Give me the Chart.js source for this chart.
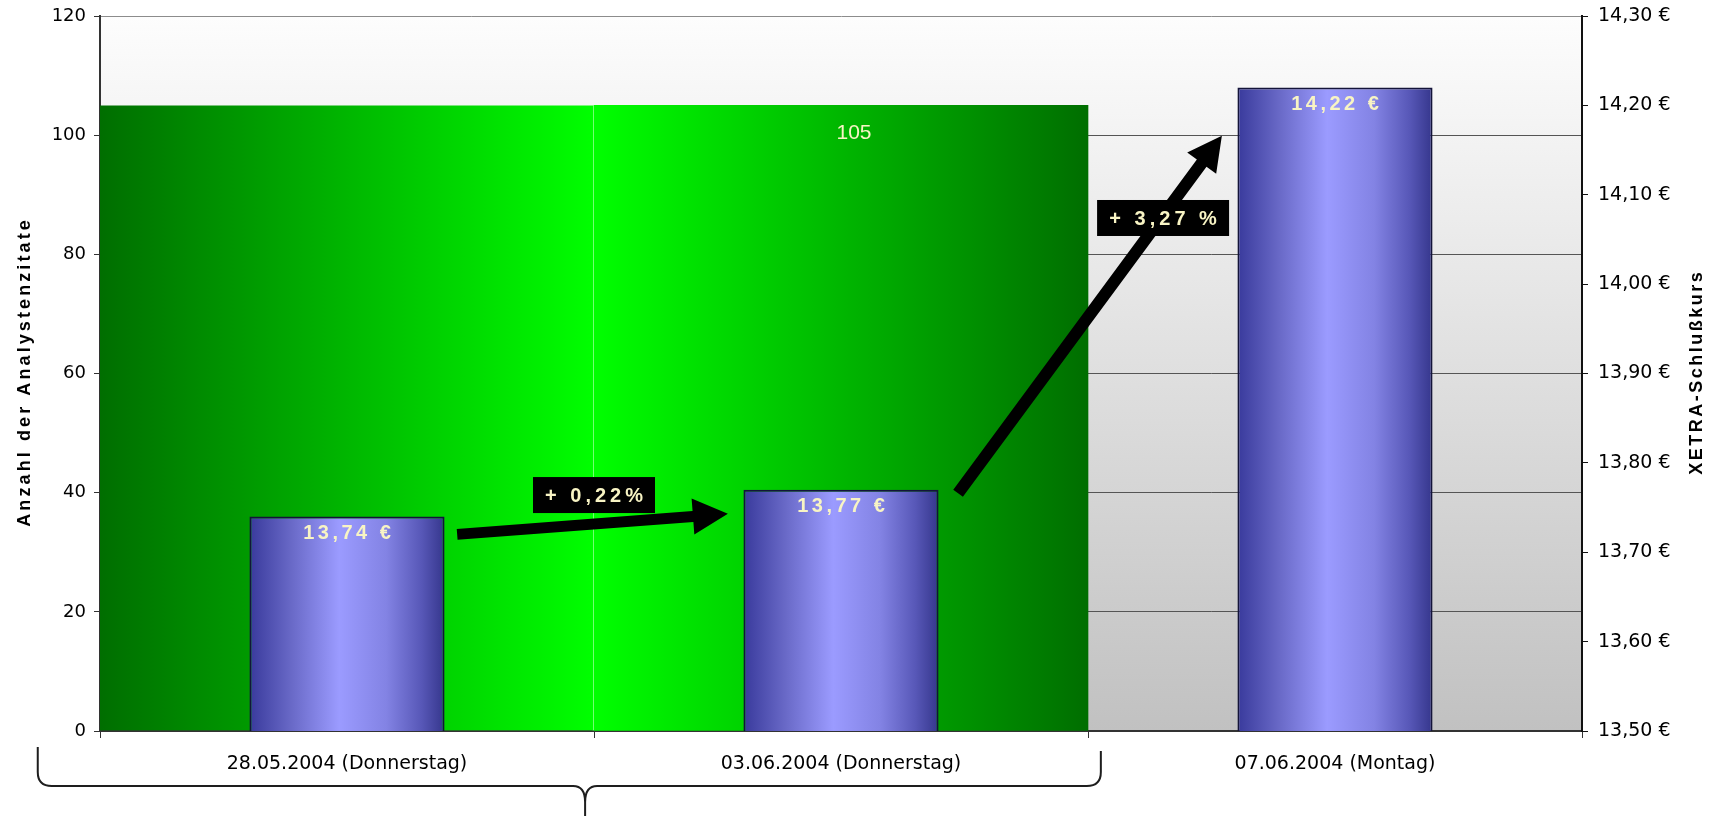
<!DOCTYPE html>
<html><head><meta charset="utf-8">
<script src="https://cdn.jsdelivr.net/npm/chart.js@4.4.1/dist/chart.umd.min.js"></script>
<style>html,body{margin:0;padding:0;background:#fff;overflow:hidden}</style>
</head><body>
<canvas id="c" width="1717" height="816"></canvas>
<script>
// ---- data ----
const categories = ['28.05.2004 (Donnerstag)', '03.06.2004 (Donnerstag)', '07.06.2004 (Montag)'];
const analystCitations = [105, 105, null];   // one block covering the first two days
const citationLabelIndex = 1;
const closingPrices = [13.74, 13.77, 14.22];
const changeLabels = ['+ 0,22%', '+ 3,27 %'];
const citationAxisTitle = 'Anzahl der Analystenzitate';
const priceAxisTitle = 'XETRA-Schlußkurs';
const citationAxisRange = [0, 120, 20];
const priceAxisRange = [13.5, 14.3, 0.1];

// ---- annotation geometry (in axis units: x = category index, y = price) ----
const changeNotes = [
  {text: changeLabels[0], box: {x: 0.5, y: 13.764, w: 122, h: 36},
   arrow: {from: [0.223, 13.720], to: [0.771, 13.743], shaft: 11, head: 35, headW: 36}},
  {text: changeLabels[1], box: {x: 1.652, y: 14.074, w: 132, h: 36},
   arrow: {from: [1.237, 13.766], to: [1.771, 14.166], shaft: 12, head: 34, headW: 36}}
];
const brace = {from: -0.626, to: 1.526, tip: 0.482};

const fmtPrice = v => v.toFixed(2).replace('.', ',') + ' €';

function blueGradient(ctx) {
  const chart = ctx.chart, xs = chart.scales.x;
  if (!chart.chartArea || !xs || ctx.dataIndex === undefined) return '#8080e0';
  const cx = xs.getPixelForValue(ctx.dataIndex);
  const cw = xs.getPixelForValue(1) - xs.getPixelForValue(0);
  const hw = cw * 0.395 / 2;
  const g = chart.ctx.createLinearGradient(cx - hw, 0, cx + hw, 0);
  g.addColorStop(0, '#393a9c');
  g.addColorStop(0.22, '#6a6ac8');
  g.addColorStop(0.46, '#9b9bff');
  g.addColorStop(0.7, '#8383e4');
  g.addColorStop(0.88, '#5858b8');
  g.addColorStop(1, '#35368c');
  return g;
}
function greenGradient(ctx) {
  const chart = ctx.chart, xs = chart.scales.x;
  if (!chart.chartArea || !xs) return '#00b000';
  const l = xs.getPixelForValue(-0.5), r = xs.getPixelForValue(1.5);
  const g = chart.ctx.createLinearGradient(l, 0, r, 0);
  g.addColorStop(0, '#006e00');
  g.addColorStop(0.5, '#00ff00');
  g.addColorStop(1, '#006e00');
  return g;
}

function spacedTitle(scale, x, spacing) {
  const t = scale.options.title, ctx = scale.ctx;
  ctx.save();
  ctx.font = Chart.helpers.toFont(t.font).string;
  ctx.fillStyle = t.color;
  ctx.textAlign = 'center';
  ctx.textBaseline = 'middle';
  ctx.translate(x, (scale.top + scale.bottom) / 2);
  ctx.rotate(-Math.PI / 2);
  ctx.letterSpacing = spacing + 'px';
  ctx.fillText(t.text, spacing / 2, 0);
  ctx.restore();
}

const titlePlugin = {
  id: 'spacedTitles',
  afterLayout(chart) {
    chart.scales.y.drawTitle = function () { spacedTitle(this, this.left + 25, 3.1); };
    chart.scales.y2.drawTitle = function () { spacedTitle(this, this.right - 20, 2.5); };
  }
};

const bgPlugin = {
  id: 'plotBg',
  beforeDraw(chart) {
    const {ctx, chartArea: a} = chart;
    ctx.save();
    ctx.fillStyle = '#ffffff';
    ctx.fillRect(0, 0, chart.width, chart.height);
    const g = ctx.createLinearGradient(0, a.top, 0, a.bottom);
    g.addColorStop(0, '#fdfdfd');
    g.addColorStop(1, '#c1c1c1');
    ctx.fillStyle = g;
    ctx.fillRect(a.left, a.top, a.right - a.left, a.bottom - a.top);
    ctx.restore();
  }
};

function drawArrow(ctx, x1, y1, x2, y2, shaft, head, headW) {
  const ang = Math.atan2(y2 - y1, x2 - x1);
  const len = Math.hypot(x2 - x1, y2 - y1);
  ctx.save();
  ctx.translate(x1, y1);
  ctx.rotate(ang);
  ctx.beginPath();
  ctx.moveTo(0, -shaft / 2);
  ctx.lineTo(len - head, -shaft / 2);
  ctx.lineTo(len - head, -headW / 2);
  ctx.lineTo(len, 0);
  ctx.lineTo(len - head, headW / 2);
  ctx.lineTo(len - head, shaft / 2);
  ctx.lineTo(0, shaft / 2);
  ctx.closePath();
  ctx.fillStyle = '#000';
  ctx.fill();
  ctx.restore();
}

const labelPlugin = {
  id: 'labelsAndNotes',
  afterDatasetsDraw(chart) {
    const ctx = chart.ctx;
    const xs = chart.scales.x, ys = chart.scales.y2;
    ctx.save();
    // price labels inside the blue bars
    const metaP = chart.getDatasetMeta(0);
    ctx.font = 'bold 20px "Liberation Sans", Arial, sans-serif';
    ctx.fillStyle = '#f8f4c4';
    ctx.textAlign = 'center';
    ctx.textBaseline = 'middle';
    ctx.letterSpacing = '3.5px';
    metaP.data.forEach((el, i) => {
      ctx.fillText(fmtPrice(closingPrices[i]), el.x + 1.75, el.y + 17);
    });
    // citation count label
    const metaC = chart.getDatasetMeta(1);
    const elC = metaC.data[citationLabelIndex];
    ctx.letterSpacing = '0px';
    ctx.font = '21px "Liberation Sans", Arial, sans-serif';
    ctx.fillText(String(analystCitations[citationLabelIndex]), elC.x + 13, elC.y + 28);
    // arrows + change boxes
    changeNotes.forEach(n => {
      const a = n.arrow;
      drawArrow(ctx, xs.getPixelForValue(a.from[0]), ys.getPixelForValue(a.from[1]),
        xs.getPixelForValue(a.to[0]), ys.getPixelForValue(a.to[1]), a.shaft, a.head, a.headW);
    });
    changeNotes.forEach(n => {
      const cx = xs.getPixelForValue(n.box.x), cy = ys.getPixelForValue(n.box.y);
      ctx.fillStyle = '#000';
      ctx.fillRect(cx - n.box.w / 2, cy - n.box.h / 2, n.box.w, n.box.h);
      ctx.fillStyle = '#f8f4c4';
      ctx.font = 'bold 20px "Liberation Sans", Arial, sans-serif';
      ctx.letterSpacing = '4px';
      ctx.fillText(n.text, cx + 2, cy + 1);
    });
    ctx.restore();
  },
  afterDraw(chart) {
    const ctx = chart.ctx, xs = chart.scales.x;
    const xl = xs.getPixelForValue(brace.from), xr = xs.getPixelForValue(brace.to), xc = xs.getPixelForValue(brace.tip);
    const b = chart.chartArea.bottom;
    const yTop = b + 16, yMid = b + 55, yEnd = chart.height + 2, r = 14;
    ctx.save();
    ctx.strokeStyle = '#1e1e1e';
    ctx.lineWidth = 2;
    ctx.beginPath();
    ctx.moveTo(xl, yTop);
    ctx.lineTo(xl, yMid - r);
    ctx.quadraticCurveTo(xl, yMid, xl + r, yMid);
    ctx.lineTo(xc - 12, yMid);
    ctx.quadraticCurveTo(xc, yMid, xc, yMid + 16);
    ctx.lineTo(xc, yEnd);
    ctx.moveTo(xc, yMid + 16);
    ctx.quadraticCurveTo(xc, yMid, xc + 12, yMid);
    ctx.lineTo(xr - r, yMid);
    ctx.quadraticCurveTo(xr, yMid, xr, yMid - r);
    ctx.lineTo(xr, yTop + 4);
    ctx.stroke();
    ctx.restore();
  }
};

Chart.defaults.font.family = '"DejaVu Sans", sans-serif';
Chart.defaults.color = '#000';

const fixV = w => s => { s.width = w; s.paddingTop = 0; s.paddingBottom = 0; };

new Chart(document.getElementById('c'), {
  type: 'bar',
  data: {
    labels: categories,
    datasets: [
      {
        label: 'XETRA-Schlußkurs',
        data: closingPrices,
        yAxisID: 'y2',
        grouped: false,
        order: 0,
        barPercentage: 0.395,
        categoryPercentage: 1,
        backgroundColor: blueGradient,
        borderColor: '#14143a',
        borderWidth: 2
      },
      {
        label: 'Anzahl der Analystenzitate',
        data: analystCitations,
        yAxisID: 'y',
        grouped: false,
        order: 1,
        barPercentage: 1,
        categoryPercentage: 1,
        backgroundColor: greenGradient,
        borderColor: '#ffffff',
        borderWidth: ctx => ctx.dataIndex === 0 ? {top: 0, right: 1, bottom: 0, left: 0} : 0,
        borderSkipped: false
      }
    ]
  },
  options: {
    responsive: false,
    devicePixelRatio: 1,
    animation: false,
    layout: {padding: {top: 16, left: 0, right: 0, bottom: 0}},
    plugins: {legend: {display: false}, tooltip: {enabled: false}},
    scales: {
      x: {
        type: 'category',
        offset: true,
        grid: {offset: true, drawOnChartArea: false, drawTicks: true, tickLength: 7, tickColor: '#333'},
        border: {color: '#333', width: 2},
        ticks: {font: {size: 19}, color: '#000', padding: 15, maxRotation: 0, autoSkip: false},
        afterFit: s => { s.height = 85; s.paddingLeft = 0; s.paddingRight = 0; }
      },
      y: {
        position: 'left',
        min: citationAxisRange[0], max: citationAxisRange[1],
        ticks: {stepSize: citationAxisRange[2], font: {size: 18}, color: '#000', padding: 8},
        grid: {color: c => (c.tick && c.tick.value === citationAxisRange[1]) ? '#8c8c8c' : '#555', lineWidth: 1, tickLength: 6, tickColor: '#333'},
        border: {color: '#333', width: 2},
        title: {display: true, text: citationAxisTitle, color: '#000',
                font: {family: '"Liberation Sans", Arial, sans-serif', size: 18, weight: 'bold'}},
        afterFit: fixV(100)
      },
      y2: {
        position: 'right',
        min: priceAxisRange[0], max: priceAxisRange[1],
        beginAtZero: false,
        ticks: {stepSize: priceAxisRange[2], font: {size: 19}, color: '#000', padding: 10,
                callback: v => fmtPrice(v)},
        grid: {drawOnChartArea: false, tickLength: 6, tickColor: '#111'},
        border: {color: '#111', width: 2},
        title: {display: true, text: priceAxisTitle, color: '#000',
                font: {family: '"Liberation Sans", Arial, sans-serif', size: 18, weight: 'bold'}},
        afterFit: fixV(135)
      }
    }
  },
  plugins: [bgPlugin, titlePlugin, labelPlugin]
});
</script>
</body></html>
